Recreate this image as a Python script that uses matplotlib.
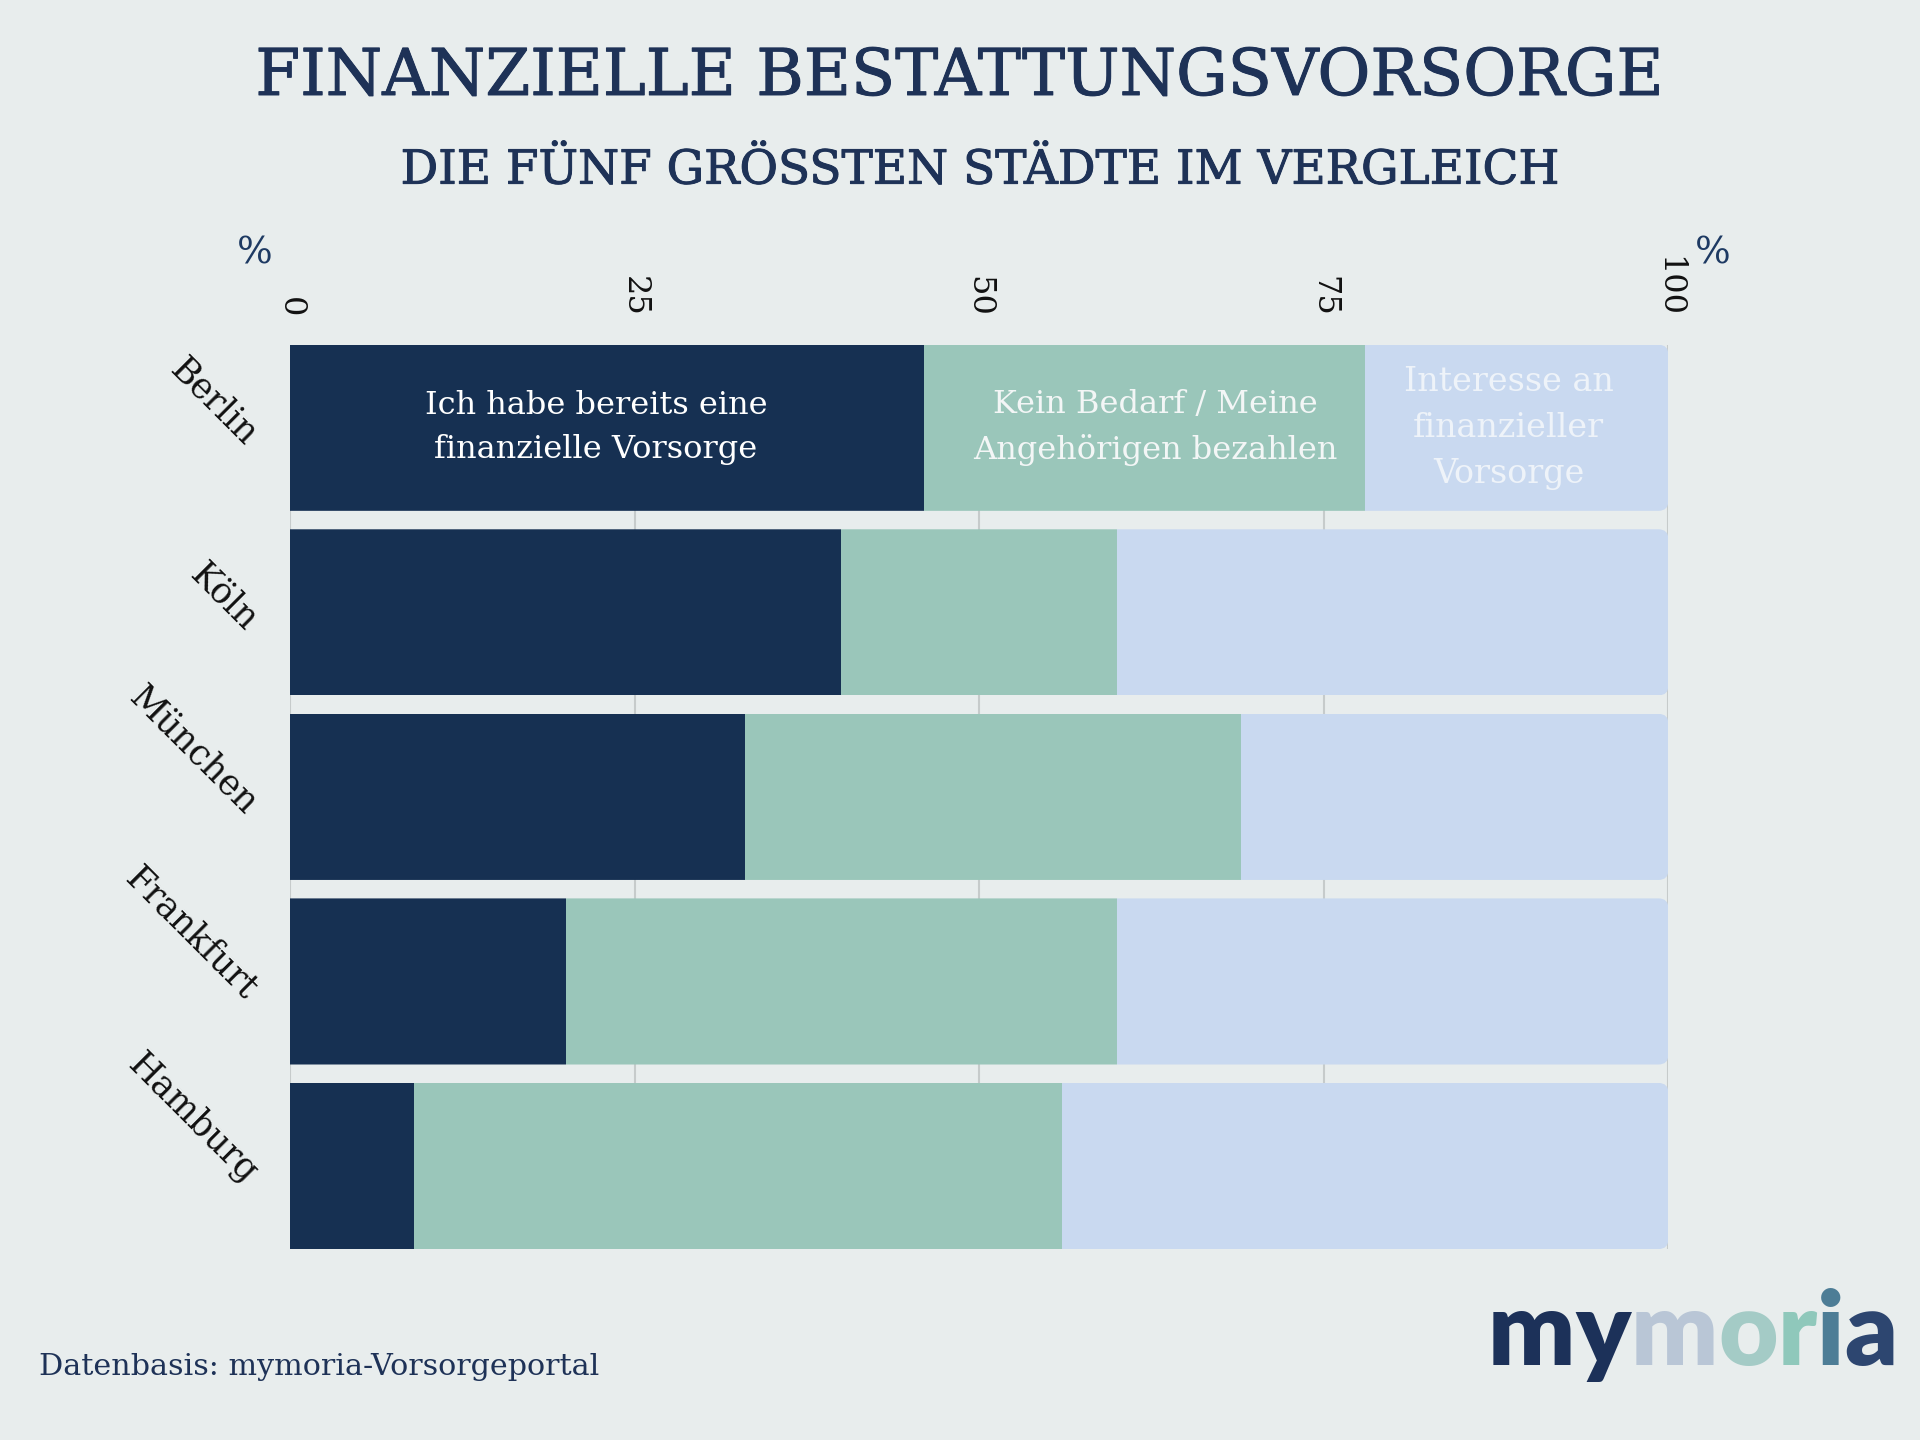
import matplotlib.pyplot as plt
from matplotlib.patches import FancyBboxPatch
from matplotlib.transforms import ScaledTranslation
import matplotlib.patheffects as pe
import numpy as np

plt.rcParams['font.family'] = ['DejaVu Serif']

# data (percent per city)
cities = ["Berlin", "Köln", "München", "Frankfurt", "Hamburg"]
vorsorge = [46, 40, 33, 20, 9]
kein_bedarf = [32, 20, 36, 40, 47]
interesse = [22, 40, 31, 40, 44]
ticks = [0, 25, 50, 75, 100]
segment_labels = ["Ich habe bereits eine\nfinanzielle Vorsorge",
                  "Kein Bedarf / Meine\nAngehörigen bezahlen",
                  "Interesse an\nfinanzieller\nVorsorge"]

bg = "#E8EDED"
navy = "#1E3257"
colors = ["#163052", "#9AC6BA", "#C9D9F0"]
label_colors = ["#FFFFFF", "#F3F6F6", "#EEF3F9"]
label_sizes = [23, 23, 24]
label_shift = [-0.8, 0.8, -0.6]  # small nudges of the in-bar captions
bar_h = 0.9

fig = plt.figure(figsize=(19.2, 14.4), dpi=100, facecolor=bg)
ax = fig.add_axes([0.151, 0.1326, 0.718, 0.628])
ax.set_facecolor(bg)
ax.set_xlim(0, 100)
ax.set_ylim(4.45, -0.45)

y = np.arange(len(cities))
left = np.zeros(len(cities))
series = [vorsorge, kein_bedarf, interesse]
rows = [[] for _ in cities]
for vals, col in zip(series, colors):
    bars = ax.barh(y, vals, left=left, height=bar_h, color=col, zorder=2)
    for i, b in enumerate(bars):
        rows[i].append(b)
    left += np.array(vals)

# round the right end of every row (clip each row with a rounded box)
bb = ax.get_position()
px_x = bb.width * 1920 / 100.0          # pixels per % on x
px_y = bb.height * 1440 / 4.9            # pixels per row unit on y
for i, row in enumerate(rows):
    total = sum(s[i] for s in series)
    clip = FancyBboxPatch((-5, y[i] - bar_h / 2), total + 5, bar_h,
                          boxstyle="round,pad=0,rounding_size=%f" % (10 / px_x),
                          mutation_aspect=px_x / px_y, transform=ax.transData)
    for b in row:
        b.set_clip_path(clip)

# captions inside the first row
left0 = 0
for vals, txt, tc, fs, dx in zip(series, segment_labels, label_colors, label_sizes, label_shift):
    ax.text(left0 + vals[0] / 2 + dx, y[0], txt, ha="center", va="center",
            color=tc, fontsize=fs, linespacing=1.55, zorder=3)
    left0 += vals[0]

ax.xaxis.tick_top()
ax.set_xticks(ticks)
ax.set_xticklabels([str(t) for t in ticks], rotation=270, fontsize=23, color="#111111")
ax.tick_params(axis="x", length=0, pad=20)
ax.grid(axis="x", color="#C6CBCB", lw=1.5, zorder=0)
ax.set_axisbelow(True)

ax.set_yticks(y)
ax.set_yticklabels(cities, rotation=-45, ha="right", va="bottom",
                   rotation_mode="anchor", fontsize=25, color="#111111")
ax.tick_params(axis="y", length=0, pad=36)
off = ScaledTranslation(0, -0.24, fig.dpi_scale_trans)
for lab in ax.get_yticklabels():
    lab.set_transform(lab.get_transform() + off)

for s in ax.spines.values():
    s.set_visible(False)

# percent markers
fig.text(255 / 1920, 1 - 254 / 1440, "%", ha="center", va="center", fontsize=27, color="#1E3A63")
fig.text(1713 / 1920, 1 - 254 / 1440, "%", ha="center", va="center", fontsize=27, color="#1E3A63")

# titles (slightly thickened strokes)
thick = [pe.withStroke(linewidth=0.7, foreground=navy)]
fig.text(0.5, 1 - 77 / 1440, "FINANZIELLE BESTATTUNGSVORSORGE", ha="center", va="center",
         fontsize=46.5, color=navy, path_effects=thick)
fig.text(0.5115, 1 - 171 / 1440, "DIE FÜNF GRÖSSTEN STÄDTE IM VERGLEICH", ha="center", va="center",
         fontsize=33.8, color=navy, path_effects=thick)

fig.text(39 / 1920, 1 - 1367 / 1440, "Datenbasis: mymoria-Vorsorgeportal", ha="left", va="center",
         fontsize=21.7, color=navy)

# logo, letter by letter, each placed after the previous one
logo = [("m", "#1C3159"), ("y", "#1C3159"), ("m", "#B9C6D6"), ("o", "#A4CBC6"),
        ("r", "#8FC8BB"), ("i", "#4D7D96"), ("a", "#2D4670")]
prev = fig.text(1488 / 1920, 1 - 1365 / 1440, logo[0][0], ha="left", va="baseline",
                fontsize=74, color=logo[0][1], family="Lato", weight="heavy")
for ch, col in logo[1:]:
    prev = fig.add_artist(plt.Annotation(ch, xy=(1, 0), xycoords=prev, ha="left", va="bottom",
                                         fontsize=74, color=col, family="Lato", weight="heavy"))

fig.savefig("out.png", dpi=100, facecolor=bg)
